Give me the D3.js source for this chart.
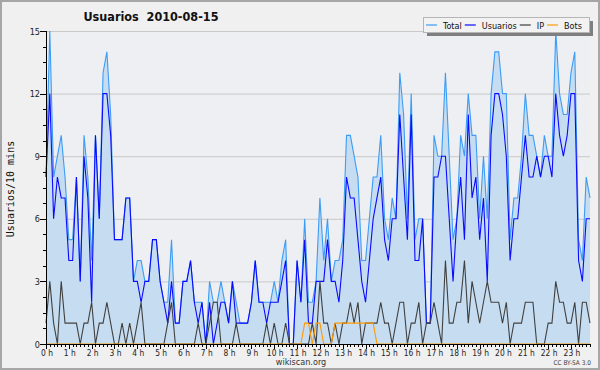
<!DOCTYPE html>
<html>
<head>
<meta charset="utf-8">
<script src="https://cdn.jsdelivr.net/npm/d3@7"></script>
<style>
  body { margin: 0; background: #fff; }
  svg { display: block; }
  text { font-family: 'DejaVu Sans Condensed', 'DejaVu Sans', sans-serif; font-stretch: condensed; }
</style>
</head>
<body>
<div id="chart"></div>
<script>
// values per 10 minutes, 2010-08-15 (144 slots)
const hours = d3.range(24).map(h => h + " h");
const total = [8,15,8,9,10,8,5,5,8,3,10,8,4,10,6,13,14,11,5,5,5,7,7,3,4,
  4,3,3,5,5,3,2,2,5,1,1,3,3,4,2,2,2,
  0,3,2,2,3,2,1,3,2,1,1,1,2,4,2,2,
  2,2,3,2,4,5,0,0,4,2,6,2,2,3,7,4,6,3,
  4,4,5,10,10,9,8,4,4,6,8,8,10,6,5,7,6,
  13,11,6,12,5,6,6,1,1,10,9,9,13,9,5,6,
  10,9,12,10,10,6,9,6,12,14,14,12,12,5,7,7,9,
  12,10,10,9,8,10,9,9,15,12,11,11,13,14,5,4,8,7];
const usuarios = [8,12,6,8,7,7,4,4,8,3,9,7,2,10,6,12,12,10,5,5,5,7,7,3,3,
  2,3,3,5,5,3,2,1,3,1,1,3,3,4,2,1,2,
  0,2,0,1,2,2,1,3,1,1,1,1,2,4,2,2,
  1,2,2,2,3,4,0,0,4,2,5,1,1,3,3,3,5,3,
  3,2,4,8,7,7,5,3,2,4,6,7,8,5,4,6,6,
  11,8,5,11,4,4,6,1,1,8,8,9,9,6,3,6,
  8,5,11,7,8,5,7,3,10,12,12,11,9,4,6,6,8,
  10,8,8,9,8,9,9,8,12,10,9,10,12,12,4,3,6,6];
const ip = [1,3,1,0,3,1,1,1,1,0,1,1,2,0,1,1,2,1,0,0,1,0,1,0,1,
  2,0,0,0,0,0,0,1,2,0,0,0,0,0,0,1,0,
  0,1,2,2,0,0,0,0,1,0,0,0,0,0,0,0,
  1,0,1,0,0,1,0,0,0,0,0,0,1,0,3,1,1,0,
  1,0,1,1,2,1,2,0,1,1,1,1,2,1,1,0,1,
  2,2,0,1,1,2,0,1,1,2,1,0,4,1,1,2,
  2,4,1,3,2,1,2,3,2,2,2,1,2,0,1,1,1,
  2,2,2,0,0,0,1,1,3,2,2,1,1,2,0,2,2,1];
const bots = [0,0,0,0,0,0,0,0,0,0,0,0,0,0,0,0,0,0,0,0,0,0,0,0,0,
  0,0,0,0,0,0,0,0,0,0,0,0,0,0,0,0,0,
  0,0,0,0,0,0,0,0,0,0,0,0,0,0,0,0,
  0,0,0,0,0,0,0,0,0,0,1,1,0,1,1,0,0,0,
  1,1,1,1,1,1,1,1,1,1,1,0,0,0,0,0,0,
  0,0,0,0,0,0,0,0,0,0,0,0,0,0,0,0,
  0,0,0,0,0,0,0,0,0,0,0,0,0,0,0,0,0,
  0,0,0,0,0,0,0,0,0,0,0,0,0,0,0,0,0,0];
const yTicks = [0,3,6,9,12,15];
const seriesNames = ["Total","Usuarios","IP","Bots"];
const seriesColors = ["#3d9cf5","#0a0aff","#404040","#ff9a00"];

function chart() {
  const w = 600, h = 370;
  const left = 46, right = 590, top = 31, bottom = 344;

  const svg = d3.select("#chart").append("svg")
    .attr("width", w).attr("height", h);

  // background + frame
  svg.append("rect").attr("x", 1).attr("y", 1).attr("width", w-2).attr("height", h-2)
     .attr("fill", "#f0f0f0").attr("stroke", "#a6a6a6").attr("stroke-width", 2);

  const xScale = d3.scaleLinear().domain([0, total.length-1]).range([left, right]);
  const yScale = d3.scaleLinear().domain([0, 15]).range([bottom, top]);

  svg.append("rect").attr("x", left).attr("y", top)
     .attr("width", right-left).attr("height", bottom-top).attr("fill", "#edeff2");

  // grid lines
  svg.append("g").selectAll("line").data(yTicks.slice(1)).enter().append("line")
     .attr("x1", left).attr("x2", right)
     .attr("y1", d => yScale(d)+0.5).attr("y2", d => yScale(d)+0.5)
     .attr("stroke", "#c9c9c9");

  // area under total
  const area = d3.area().x((d,i) => xScale(i)).y0(yScale(0)).y1(d => yScale(d));
  svg.append("path").datum(total).attr("d", area).attr("fill", "#c6ddf1");

  const line = d3.line().x((d,i) => xScale(i)).y(d => yScale(d));
  [total, usuarios, ip, bots].forEach((s, k) => {
    svg.append("path").datum(s).attr("d", line)
       .attr("fill", "none").attr("stroke", seriesColors[k]).attr("stroke-width", 1.1);
  });

  // y axis
  const yAxis = svg.append("g");
  yAxis.append("line").attr("x1", left+0.5).attr("x2", left+0.5).attr("y1", top).attr("y2", bottom+1)
       .attr("stroke", "#000");
  yAxis.selectAll(".minor").data(d3.range(0, 15.01, 0.75)).enter().append("line")
       .attr("x1", left-3).attr("x2", left)
       .attr("y1", d => Math.round(yScale(d))+0.5).attr("y2", d => Math.round(yScale(d))+0.5)
       .attr("stroke", "#000");
  yAxis.selectAll(".major").data(yTicks).enter().append("line")
       .attr("x1", left-6).attr("x2", left)
       .attr("y1", d => Math.round(yScale(d))+0.5).attr("y2", d => Math.round(yScale(d))+0.5)
       .attr("stroke", "#000");
  yAxis.selectAll("text").data(yTicks).enter().append("text")
       .attr("x", left-6).attr("y", d => yScale(d)+3.5)
       .attr("text-anchor", "end").attr("font-size", 9).attr("fill", "#222")
       .text(d => d);

  // x axis
  const xAxis = svg.append("g");
  xAxis.append("line").attr("x1", left).attr("x2", right+1).attr("y1", bottom+0.5).attr("y2", bottom+0.5)
       .attr("stroke", "#000").attr("stroke-width", 1.2);
  xAxis.selectAll(".tick").data(d3.range(total.length)).enter().append("line")
       .attr("x1", i => Math.round(xScale(i))+0.5).attr("x2", i => Math.round(xScale(i))+0.5)
       .attr("y1", bottom).attr("y2", i => i % 6 === 0 ? bottom+5 : bottom+3)
       .attr("stroke", "#000");
  xAxis.selectAll("text").data(hours).enter().append("text")
       .attr("x", (d,i) => xScale(i*6)+1).attr("y", bottom+12)
       .attr("text-anchor", "middle").attr("font-size", 8.4).attr("fill", "#222")
       .text(d => d);

  // y label
  svg.append("text")
     .attr("transform", "translate(14,189) rotate(-90)")
     .attr("text-anchor", "middle")
     .style("font-family", "'DejaVu Sans Mono', monospace").style("font-stretch", "normal")
     .attr("font-size", 10).attr("fill", "#111")
     .text("Usuarios/10 mins");

  // title
  svg.append("text").attr("x", 151).attr("y", 21)
     .attr("text-anchor", "middle").attr("font-size", 12.5).attr("font-weight", "bold")
     .attr("fill", "#111").style("white-space", "pre")
     .text("Usuarios  2010-08-15");

  // legend
  const lx = 423, ly = 17, lw = 166, lh = 15;
  svg.append("rect").attr("x", lx+4).attr("y", ly+4).attr("width", lw).attr("height", lh).attr("fill", "#7f7f7f");
  svg.append("rect").attr("x", lx+0.5).attr("y", ly+0.5).attr("width", lw).attr("height", lh)
     .attr("fill", "#f2f2f2").attr("stroke", "#b5b5b5");
  let cx = lx + 3;
  seriesNames.forEach((name, k) => {
    svg.append("line").attr("x1", cx).attr("x2", cx+11)
       .attr("y1", ly+8).attr("y2", ly+8)
       .attr("stroke", seriesColors[k]).attr("stroke-width", 1.2);
    const t = svg.append("text").attr("x", cx+17).attr("y", ly+11.5)
       .attr("font-size", 9).attr("fill", "#111").text(name);
    cx += 17 + t.node().getComputedTextLength() + 3;
  });

  // footer
  svg.append("text").attr("x", 301).attr("y", 365)
     .attr("text-anchor", "middle").attr("font-size", 9).attr("fill", "#333")
     .text("wikiscan.org");
  svg.append("text").attr("x", 591).attr("y", 365)
     .attr("text-anchor", "end").attr("font-size", 6.5).attr("fill", "#444")
     .text("CC BY-SA 3.0");
}

chart();
</script>
</body>
</html>
